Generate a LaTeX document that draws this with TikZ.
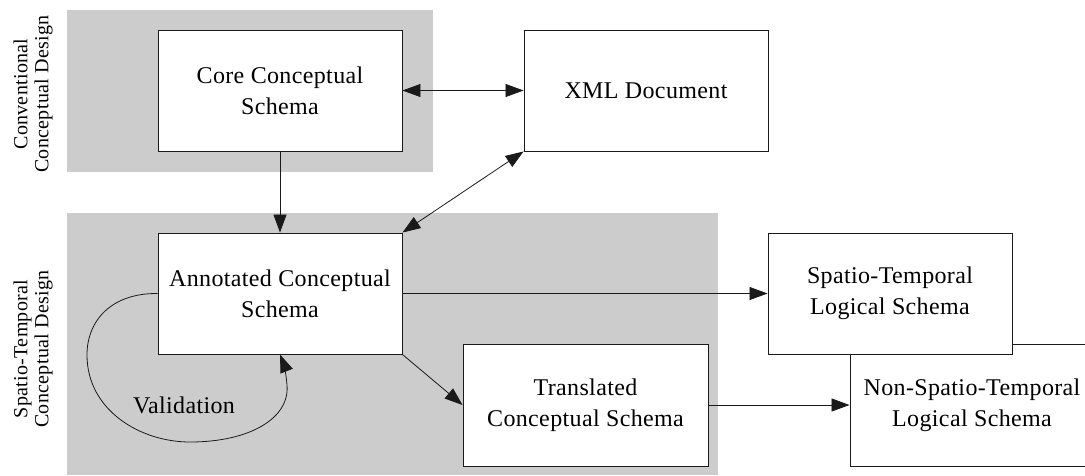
\documentclass[tikz,border=0pt]{standalone}
\usepackage{fontspec}
\setmainfont{Liberation Serif}[LetterSpace=1.5]
\usetikzlibrary{arrows.meta}
\definecolor{zonegray}{HTML}{CCCCCC}
\definecolor{linegray}{HTML}{1A1A1A}
\tikzset{
  zone/.style={fill=zonegray, draw=none},
  box/.style={draw=linegray, fill=white, line width=0.9pt, minimum width=244pt, minimum height=121pt,
    align=center, inner sep=2pt, font=\fontsize{24}{31}\selectfont},
  side/.style={rotate=90, align=center, font=\fontsize{20}{21}\selectfont},
  arr/.style={draw=linegray, line width=0.8pt, -{Triangle[length=18pt,width=13pt]}},
  biarr/.style={draw=linegray, line width=0.8pt, {Triangle[length=18pt,width=13pt]}-{Triangle[length=18pt,width=13pt]}},
}
\begin{document}
\begin{tikzpicture}[x=1pt, y=-1pt]
\useasboundingbox (0,0) rectangle (1085,475);
% zones
\fill[zone] (67,10) rectangle (433,172);
\fill[zone] (67,213) rectangle (718,475);
\node[side] (convlab) at (33,94) {Conventional\\Conceptual Design};
\node[side] (stlab) at (33,349) {Spatio-Temporal\\Conceptual Design};
% boxes
\node[box] (core) at (280,90.5) {Core Conceptual\\Schema};
\node[box] (xml) at (646,90.5) {XML Document};
\node[box] (ann) at (280,293.5) {Annotated Conceptual\\Schema};
\node[box, minimum width=245pt, minimum height=122pt] (trans) at (585.5,405) {Translated\\Conceptual Schema};
\node[box, minimum height=122pt] (nstl) at (972,405) {Non-Spatio-Temporal\\Logical Schema};
\node[box] (stl) at (890,293.5) {Spatio-Temporal\\Logical Schema};
% connectors
\draw[biarr] (core.east) -- (xml.west);
\draw[arr] (core.south) -- (ann.north);
\draw[biarr] (xml.south west) -- (ann.north east);
\draw[arr] (ann.east) -- (stl.west);
\draw[arr] (ann.south east) -- (trans.west);
\draw[arr] (trans.east) -- (trans.east -| nstl.west);
\draw[arr] (ann.west) .. controls (112,293) and (87,320) .. (87,355)
  .. controls (87,410) and (140,442) .. (190,442)
  .. controls (250,442) and (290,418) .. (287,385)
  .. controls (286,372) and (283,362) .. (ann.south);
\node[font=\fontsize{24}{26}\selectfont] (val) at (184,405) {Validation};
\end{tikzpicture}
\end{document}
